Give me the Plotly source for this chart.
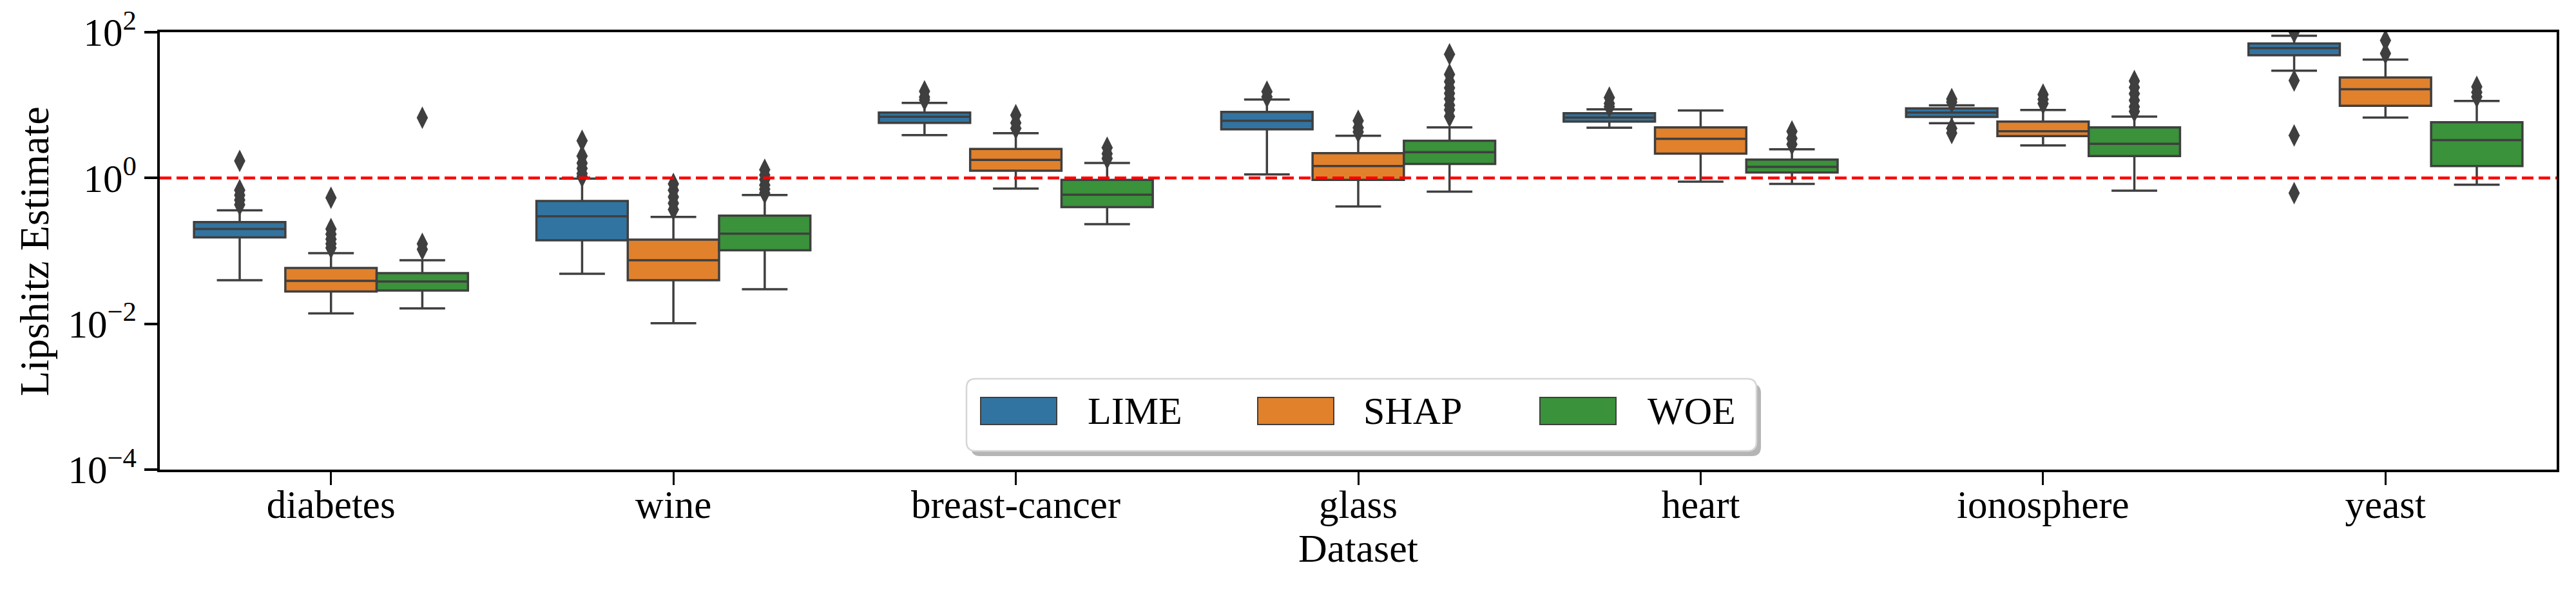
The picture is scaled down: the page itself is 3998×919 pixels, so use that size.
import plotly.graph_objects as go

# ---------------- data ----------------
datasets = ["diabetes", "wine", "breast-cancer", "glass", "heart", "ionosphere", "yeast"]
methods = ["LIME", "SHAP", "WOE"]

lime_q1 = [0.153, 0.14, 5.7, 4.65, 5.94, 6.87, 48.4]
lime_median = [0.20, 0.298, 6.93, 6.1, 6.74, 7.9, 60.5]
lime_q3 = [0.248, 0.485, 7.9, 8.07, 7.74, 9.02, 69.9]
lime_low = [0.0396, 0.0486, 3.87, 1.12, 4.89, 5.66, 29.7]
lime_high = [0.361, 0.98, 10.7, 11.9, 8.75, 9.95, 89.2]
lime_outliers = [
    [1.72, 0.68, 0.58, 0.5, 0.43],
    [3.25, 2.0, 1.6, 1.35, 1.15, 1.05],
    [15.5, 12.9, 11.8],
    [15.3, 13.0],
    [12.7, 10.5, 9.5],
    [12.1, 11.0, 4.8, 4.14],
    [100.0, 21.7, 3.83, 0.62],
]

shap_q1 = [0.0277, 0.0396, 1.26, 0.94, 2.16, 3.76, 9.77]
shap_median = [0.0388, 0.0745, 1.77, 1.46, 3.44, 4.38, 16.5]
shap_q3 = [0.0583, 0.143, 2.5, 2.19, 4.95, 5.94, 23.9]
shap_low = [0.0139, 0.0102, 0.715, 0.407, 0.89, 2.8, 6.74]
shap_high = [0.0933, 0.292, 4.12, 3.8, 8.44, 8.58, 42.1]
shap_outliers = [
    [0.537, 0.2, 0.17, 0.145, 0.125, 0.11],
    [0.83, 0.68, 0.55, 0.45, 0.37],
    [7.3, 5.7, 4.8],
    [6.1, 4.9, 4.3],
    [],
    [14.0, 12.0, 10.5],
    [77.0, 51.2],
]

woe_q1 = [0.0286, 0.102, 0.399, 1.56, 1.19, 2.0, 1.46]
woe_median = [0.038, 0.172, 0.59, 2.26, 1.42, 2.94, 3.31]
woe_q3 = [0.0496, 0.304, 0.94, 3.25, 1.79, 4.95, 5.82]
woe_low = [0.0163, 0.0298, 0.233, 0.65, 0.83, 0.67, 0.81]
woe_high = [0.0745, 0.583, 1.61, 4.95, 2.48, 6.94, 11.4]
woe_outliers = [
    [6.7, 0.125, 0.105],
    [1.3, 1.1, 0.95, 0.8, 0.7, 0.62],
    [2.6, 2.15, 1.85],
    [49.7, 26.4, 21.0, 17.2, 14.5, 12.2, 10.0, 8.6, 7.0],
    [4.35, 3.5, 2.9],
    [21.4, 17.5, 14.3, 11.6, 9.5, 8.2],
    [17.8, 15.0, 13.0],
]

threshold = 1.0

y_tick_vals = [1e-4, 1e-2, 1, 1e2]
y_tick_text = ["10<sup>−4</sup>", "10<sup>−2</sup>", "10<sup>0</sup>", "10<sup>2</sup>"]

# ---------------- style ----------------
colors = ["#3274a1", "#e1812c", "#3a923a"]
edge = "#3f3f3f"
FONT = "Liberation Serif"
W, H = 3998, 919
ML, MR, MT, MB = 248, 30, 50, 190
PW, PH = W - ML - MR, H - MT - MB

series = [
    (lime_q1, lime_median, lime_q3, lime_low, lime_high, lime_outliers),
    (shap_q1, shap_median, shap_q3, shap_low, shap_high, shap_outliers),
    (woe_q1, woe_median, woe_q3, woe_low, woe_high, woe_outliers),
]

group_width = 0.8
bw = group_width / len(methods)

fig = go.Figure()
for k, (name, s) in enumerate(zip(methods, series)):
    q1, med, q3, lo, hi, outs = s
    offset = (k - (len(methods) - 1) / 2) * bw
    xs = [i + offset for i in range(len(datasets))]
    fig.add_trace(go.Box(
        name=name, x=xs, q1=q1, median=med, q3=q3,
        lowerfence=lo, upperfence=hi,
        width=bw, whiskerwidth=0.5,
        fillcolor=colors[k],
        line=dict(color=edge, width=3.5),
        boxpoints=False, showlegend=False, hoverinfo="skip",
    ))
    ox, oy = [], []
    for i, vals in enumerate(outs):
        for v in vals:
            ox.append(i + offset)
            oy.append(v)
    fig.add_trace(go.Scatter(
        x=ox, y=oy, mode="markers", showlegend=False, hoverinfo="skip",
        marker=dict(symbol="diamond-tall", size=25, color=edge,
                    line=dict(width=0)),
    ))

# threshold line
fig.add_trace(go.Scatter(
    x=[-0.5, len(datasets) - 0.5], y=[threshold, threshold], mode="lines",
    line=dict(color="#ff0000", width=4.5, dash="18px,8px"),
    showlegend=False, hoverinfo="skip",
))

axis_common = dict(
    showline=True, linecolor="black", linewidth=4, mirror=True,
    ticks="outside", ticklen=20, tickcolor="black",
    showgrid=False, zeroline=False,
    tickfont=dict(family=FONT, size=61, color="black"),
)

fig.update_layout(
    width=W, height=H,
    margin=dict(l=ML, r=MR, t=MT, b=MB, autoexpand=False),
    paper_bgcolor="white", plot_bgcolor="white",
    showlegend=False,
    xaxis=dict(range=[-0.5, len(datasets) - 0.5],
               tickvals=list(range(len(datasets))), ticktext=datasets,
               tickwidth=3, ticklabelstandoff=-22, **axis_common),
    yaxis=dict(type="log", range=[-4, 2], tickvals=y_tick_vals,
               ticktext=y_tick_text, tickwidth=3.5, **axis_common),
)

# axis titles
fig.add_annotation(text="Dataset", xref="paper", yref="paper", x=0.5,
                   y=-(851 - (MT + PH)) / PH,
                   xanchor="center", yanchor="middle", showarrow=False,
                   font=dict(family=FONT, size=62, color="black"))
fig.add_annotation(text="Lipshitz Estimate", xref="paper", yref="paper",
                   x=(53 - ML) / PW, y=(MT + PH - 390) / PH, textangle=-90,
                   xanchor="center", yanchor="middle", showarrow=False,
                   font=dict(family=FONT, size=64, color="black"))

# custom legend (matplotlib-like fancy box with shadow)
lx = (2113 - ML) / PW
ly = (MT + PH - 644) / PH
LW2, LH2, R = 613, 56, 14


def rounded(x0, y0, x1, y1, r):
    return (f"M{x0+r},{y0} L{x1-r},{y0} Q{x1},{y0} {x1},{y0+r} "
            f"L{x1},{y1-r} Q{x1},{y1} {x1-r},{y1} L{x0+r},{y1} "
            f"Q{x0},{y1} {x0},{y1-r} L{x0},{y0+r} Q{x0},{y0} {x0+r},{y0} Z")


common_shape = dict(xref="paper", yref="paper", xsizemode="pixel",
                    ysizemode="pixel", xanchor=lx, yanchor=ly, layer="above")
fig.add_shape(type="path", path=rounded(-LW2 + 7, -LH2 - 8, LW2 + 7, LH2 - 8, R),
              fillcolor="#b5b5b5", line=dict(width=0), **common_shape)
fig.add_shape(type="path", path=rounded(-LW2, -LH2, LW2, LH2, R),
              fillcolor="white", line=dict(color="#d6d6d6", width=2.5),
              **common_shape)

patch_centers = [-532, -102, 336]
text_lefts = [-427, 1, 442]
for k, name in enumerate(methods):
    c = patch_centers[k]
    fig.add_shape(type="rect", x0=c - 59, x1=c + 59, y0=6 - 21, y1=6 + 21,
                  fillcolor=colors[k], line=dict(color=edge, width=2),
                  **common_shape)
    fig.add_annotation(text=name, xref="paper", yref="paper", x=lx, y=ly,
                       xshift=text_lefts[k], yshift=6, xanchor="left",
                       yanchor="middle", showarrow=False,
                       font=dict(family=FONT, size=60, color="black"))

fig.write_html("out.html", config={"displayModeBar": False},
               post_script="document.body.style.margin='0';document.body.style.overflow='hidden';")
